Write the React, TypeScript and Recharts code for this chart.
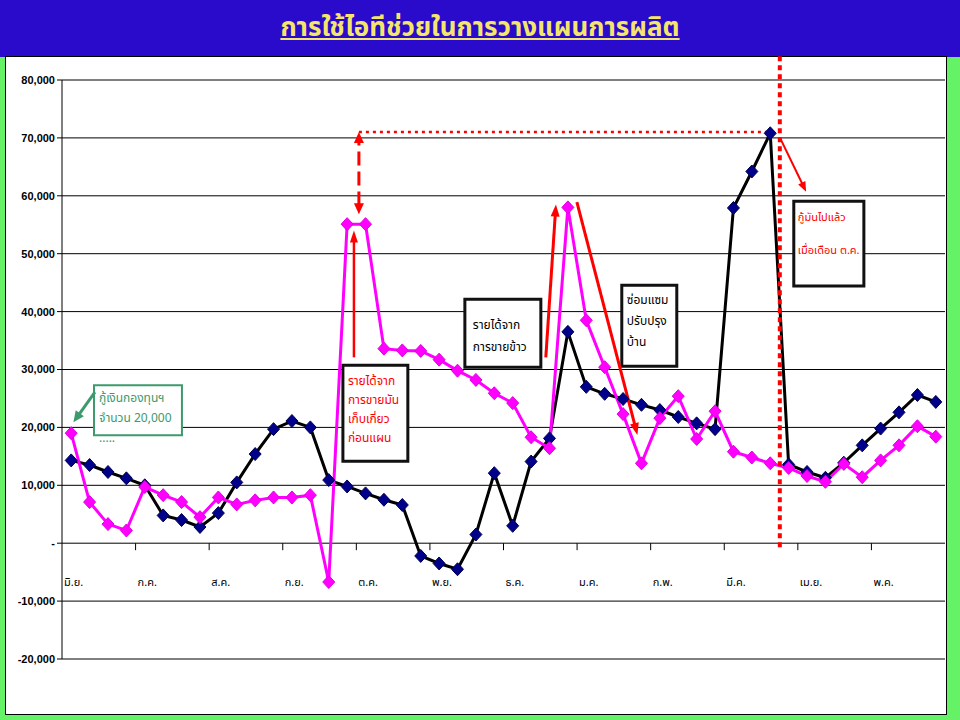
import { LineChart, Line, XAxis, YAxis, CartesianGrid, ReferenceLine, ReferenceArea } from "recharts";

// month labels (one per 4 weeks)
const months = ["มิ.ย.", "ก.ค.", "ส.ค.", "ก.ย.", "ต.ค.", "พ.ย.", "ธ.ค.", "ม.ค.", "ก.พ.", "มี.ค.", "เม.ย.", "พ.ค."];

// weekly balance, navy line
const planBalance = [
  14300, 13500, 12300, 11200, 10000, 4800, 4000, 2800, 5200, 10500, 15400, 19700,
  21100, 20000, 10900, 9800, 8600, 7500, 6600, -2200, -3500, -4500, 1500, 12100,
  3000, 14100, 18100, 36500, 27000, 25800, 24900, 23900, 23000, 21800, 20700, 19700,
  57900, 64200, 70800, 13600, 12300, 11300, 13900, 16900, 19800, 22600, 25600, 24400,
];

// weekly balance, magenta line
const actualBalance = [
  19000, 7100, 3300, 2200, 9700, 8300, 7100, 4500, 7900, 6700, 7400, 7900,
  7900, 8300, -6700, 55100, 55100, 33600, 33300, 33200, 31700, 29800, 28200, 25900,
  24200, 18300, 16400, 58000, 38500, 30400, 22300, 13800, 21600, 25400, 18000, 22800,
  15800, 14800, 13800, 13000, 11600, 10600, 13700, 11400, 14300, 16900, 20200, 18400,
];

const yTicks = [-20000, -10000, 0, 10000, 20000, 30000, 40000, 50000, 60000, 70000, 80000];
const monthTicks = months.map((_, k) => k * 4 - 0.5);

const data = planBalance.map((v, i) => ({ i, plan: v, actual: actualBalance[i] }));

const W = 960;
const H = 720;
const TOP = 80;
const X_AXIS_H = 61;
const PLOT_H = H - TOP - X_AXIS_H;
const Y_MIN = -20000;
const Y_MAX = 80000;
const zeroY = TOP + (PLOT_H * Y_MAX) / (Y_MAX - Y_MIN);

const latin = "'Liberation Sans', Arial, sans-serif";
const thai = "'Noto Sans Thai', Tahoma, 'Noto Sans', 'DejaVu Sans', sans-serif";

const fmtY = (v: number) => (v === 0 ? "-" : v.toLocaleString("en-US"));

const MonthTick = (props: any) => {
  const { x, payload } = props;
  const k = Math.round((payload.value + 0.5) / 4);
  return (
    <g>
      {k > 0 && <line x1={x} y1={zeroY} x2={x} y2={zeroY + 7} stroke="#000" strokeWidth={1} />}
      <text x={x + 2} y={zeroY + 43} fontSize={11} fontFamily={thai} fill="#000">
        {months[k]}
      </text>
    </g>
  );
};

const diamond = (fill: string, stroke: string) => (props: any) => {
  const { cx, cy, index } = props;
  if (cx == null || cy == null) return <g key={index} />;
  return (
    <polygon
      key={index}
      points={`${cx},${cy - 6.5} ${cx + 6},${cy} ${cx},${cy + 6.5} ${cx - 6},${cy}`}
      fill={fill}
      stroke={stroke}
      strokeWidth={1}
    />
  );
};

const head = (xa: number, ya: number, xb: number, yb: number, len: number, wid: number, color: string) => {
  const a = Math.atan2(yb - ya, xb - xa);
  const bx = xb - len * Math.cos(a);
  const by = yb - len * Math.sin(a);
  const px = -Math.sin(a) * wid;
  const py = Math.cos(a) * wid;
  return <polygon points={`${xb},${yb} ${bx + px},${by + py} ${bx - px},${by - py}`} fill={color} />;
};

const arrow = (color: string, width: number, dash?: string, both = false, len = 11, wid = 5) => (p: any) => {
  const { x1, y1, x2, y2 } = p;
  const a = Math.atan2(y2 - y1, x2 - x1);
  const ex = x2 - len * 0.8 * Math.cos(a);
  const ey = y2 - len * 0.8 * Math.sin(a);
  const sx = both ? x1 + len * 0.8 * Math.cos(a) : x1;
  const sy = both ? y1 + len * 0.8 * Math.sin(a) : y1;
  return (
    <g>
      <line x1={sx} y1={sy} x2={ex} y2={ey} stroke={color} strokeWidth={width} strokeDasharray={dash} />
      {head(x1, y1, x2, y2, len, wid, color)}
      {both && head(x2, y2, x1, y1, len, wid, color)}
    </g>
  );
};

const boxText = (lines: string[], color: string, padX: number, padTop: number, lineH: number, size = 12) => (props: any) => {
  const { x, y } = props.viewBox;
  return (
    <text fill={color} fontSize={size} fontFamily={thai}>
      {lines.map((l, k) => (
        <tspan key={k} x={x + padX} y={y + padTop + k * lineH}>
          {l}
        </tspan>
      ))}
    </text>
  );
};

export default function App() {
  return (
    <div style={{ position: "absolute", left: 0, top: 0, width: W, height: H, background: "#66F266", overflow: "hidden" }}>
      <div
        style={{
          position: "absolute",
          left: 0,
          top: 0,
          width: W,
          height: 57,
          background: "#2A0ACB",
          color: "#F4E66A",
          textAlign: "center",
          fontFamily: thai,
          fontWeight: "bold",
          fontSize: 26,
          lineHeight: "57px",
          textDecoration: "underline",
        }}
      >
        การใช้ไอทีช่วยในการวางแผนการผลิต
      </div>
      <div
        style={{
          position: "absolute",
          left: 5,
          top: 56,
          width: 940,
          height: 657,
          background: "#fff",
          border: "1px solid #000",
        }}
      />
      <div style={{ position: "absolute", left: 0, top: 0 }}>
        <LineChart width={W} height={H} data={data} margin={{ top: TOP, right: 15, bottom: 0, left: 0 }}>
          <CartesianGrid vertical={false} stroke="#000" strokeWidth={1} />
          <XAxis
            type="number"
            dataKey="i"
            domain={[-0.5, 47.5]}
            ticks={monthTicks}
            interval={0}
            height={X_AXIS_H}
            axisLine={false}
            tickLine={false}
            tick={<MonthTick />}
          />
          <YAxis
            type="number"
            domain={[Y_MIN, Y_MAX]}
            ticks={yTicks}
            interval={0}
            width={62}
            tickFormatter={fmtY}
            axisLine={{ stroke: "#000" }}
            tickLine={{ stroke: "#000" }}
            tickSize={5}
            tick={{ fontSize: 11, fontWeight: "bold", fill: "#000", fontFamily: latin }}
          />
          <Line
            dataKey="plan"
            stroke="#000"
            strokeWidth={3}
            dot={diamond("#00008B", "#000050")}
            isAnimationActive={false}
          />
          <Line
            dataKey="actual"
            stroke="#FF00FF"
            strokeWidth={3}
            dot={diamond("#FF00FF", "#E000E0")}
            isAnimationActive={false}
          />

          {/* green loan callout */}
          <ReferenceArea
            x1={1.24}
            x2={6.02}
            y1={18650}
            y2={27300}
            fill="#fff"
            fillOpacity={1}
            stroke="#3C9A6C"
            strokeWidth={2}
            label={boxText(["กู้เงินกองทุนฯ", "จำนวน 20,000", "....."], "#3C9A6C", 5, 17, 20, 12)}
          />
          <ReferenceLine
            segment={[{ x: 1.29, y: 26100 }, { x: 0.12, y: 20900 }]}
            stroke="#3C9A6C"
            ifOverflow="visible"
            shape={arrow("#3C9A6C", 3, undefined, false, 11, 5)}
          />

          {/* cassava box */}
          <ReferenceArea
            x1={14.77}
            x2={18.3}
            y1={14150}
            y2={30750}
            fill="#fff"
            fillOpacity={1}
            stroke="#111"
            strokeWidth={3}
            label={boxText(["รายได้จาก", "การขายมัน", "เก็บเกี่ยว", "ก่อนแผน"], "#FF0000", 5, 20, 19, 12)}
          />
          <ReferenceLine
            segment={[{ x: 15.37, y: 32100 }, { x: 15.37, y: 54000 }]}
            ifOverflow="visible"
            shape={arrow("#FF0000", 2.5, undefined, false, 12, 4)}
          />
          <ReferenceLine
            segment={[{ x: 15.64, y: 56800 }, { x: 15.64, y: 71000 }]}
            ifOverflow="visible"
            shape={arrow("#FF0000", 3, "14 6", true, 11, 5)}
          />
          <ReferenceLine
            segment={[{ x: 15.64, y: 71000 }, { x: 37.85, y: 71000 }]}
            stroke="#FF0000"
            strokeWidth={2.5}
            strokeDasharray="3 4"
            ifOverflow="visible"
          />

          {/* rice box */}
          <ReferenceArea
            x1={21.4}
            x2={25.53}
            y1={30400}
            y2={42150}
            fill="#fff"
            fillOpacity={1}
            stroke="#111"
            strokeWidth={3}
            label={boxText(["รายได้จาก", "การขายข้าว"], "#000", 8, 30, 22, 12)}
          />
          <ReferenceLine
            segment={[{ x: 25.8, y: 32100 }, { x: 26.35, y: 58500 }]}
            ifOverflow="visible"
            shape={arrow("#FF0000", 3, undefined, false, 12, 4.5)}
          />
          <ReferenceLine
            segment={[{ x: 27.49, y: 58900 }, { x: 30.78, y: 18700 }]}
            ifOverflow="visible"
            shape={arrow("#FF0000", 3, undefined, false, 12, 4.5)}
          />

          {/* repair box */}
          <ReferenceArea
            x1={29.93}
            x2={32.92}
            y1={30550}
            y2={44550}
            fill="#fff"
            fillOpacity={1}
            stroke="#111"
            strokeWidth={3}
            label={boxText(["ซ่อมแซม", "ปรับปรุง", "บ้าน"], "#000", 5, 19, 21, 12)}
          />

          {/* loan repaid */}
          <ReferenceLine
            segment={[{ x: 38.52, y: 84100 }, { x: 38.52, y: -700 }]}
            stroke="#FF0000"
            strokeWidth={4}
            strokeDasharray="5 4"
            ifOverflow="visible"
          />
          <ReferenceLine
            segment={[{ x: 38.52, y: 70100 }, { x: 39.95, y: 60700 }]}
            ifOverflow="visible"
            shape={arrow("#FF0000", 2, undefined, false, 10, 4)}
          />
          <ReferenceArea
            x1={39.28}
            x2={43.09}
            y1={44400}
            y2={59050}
            fill="#fff"
            fillOpacity={1}
            stroke="#111"
            strokeWidth={3}
            label={boxText(["กู้มันไปแล้ว", "เมื่อเดือน ต.ค."], "#FF0000", 4, 20, 33, 11)}
          />
        </LineChart>
      </div>
    </div>
  );
}
